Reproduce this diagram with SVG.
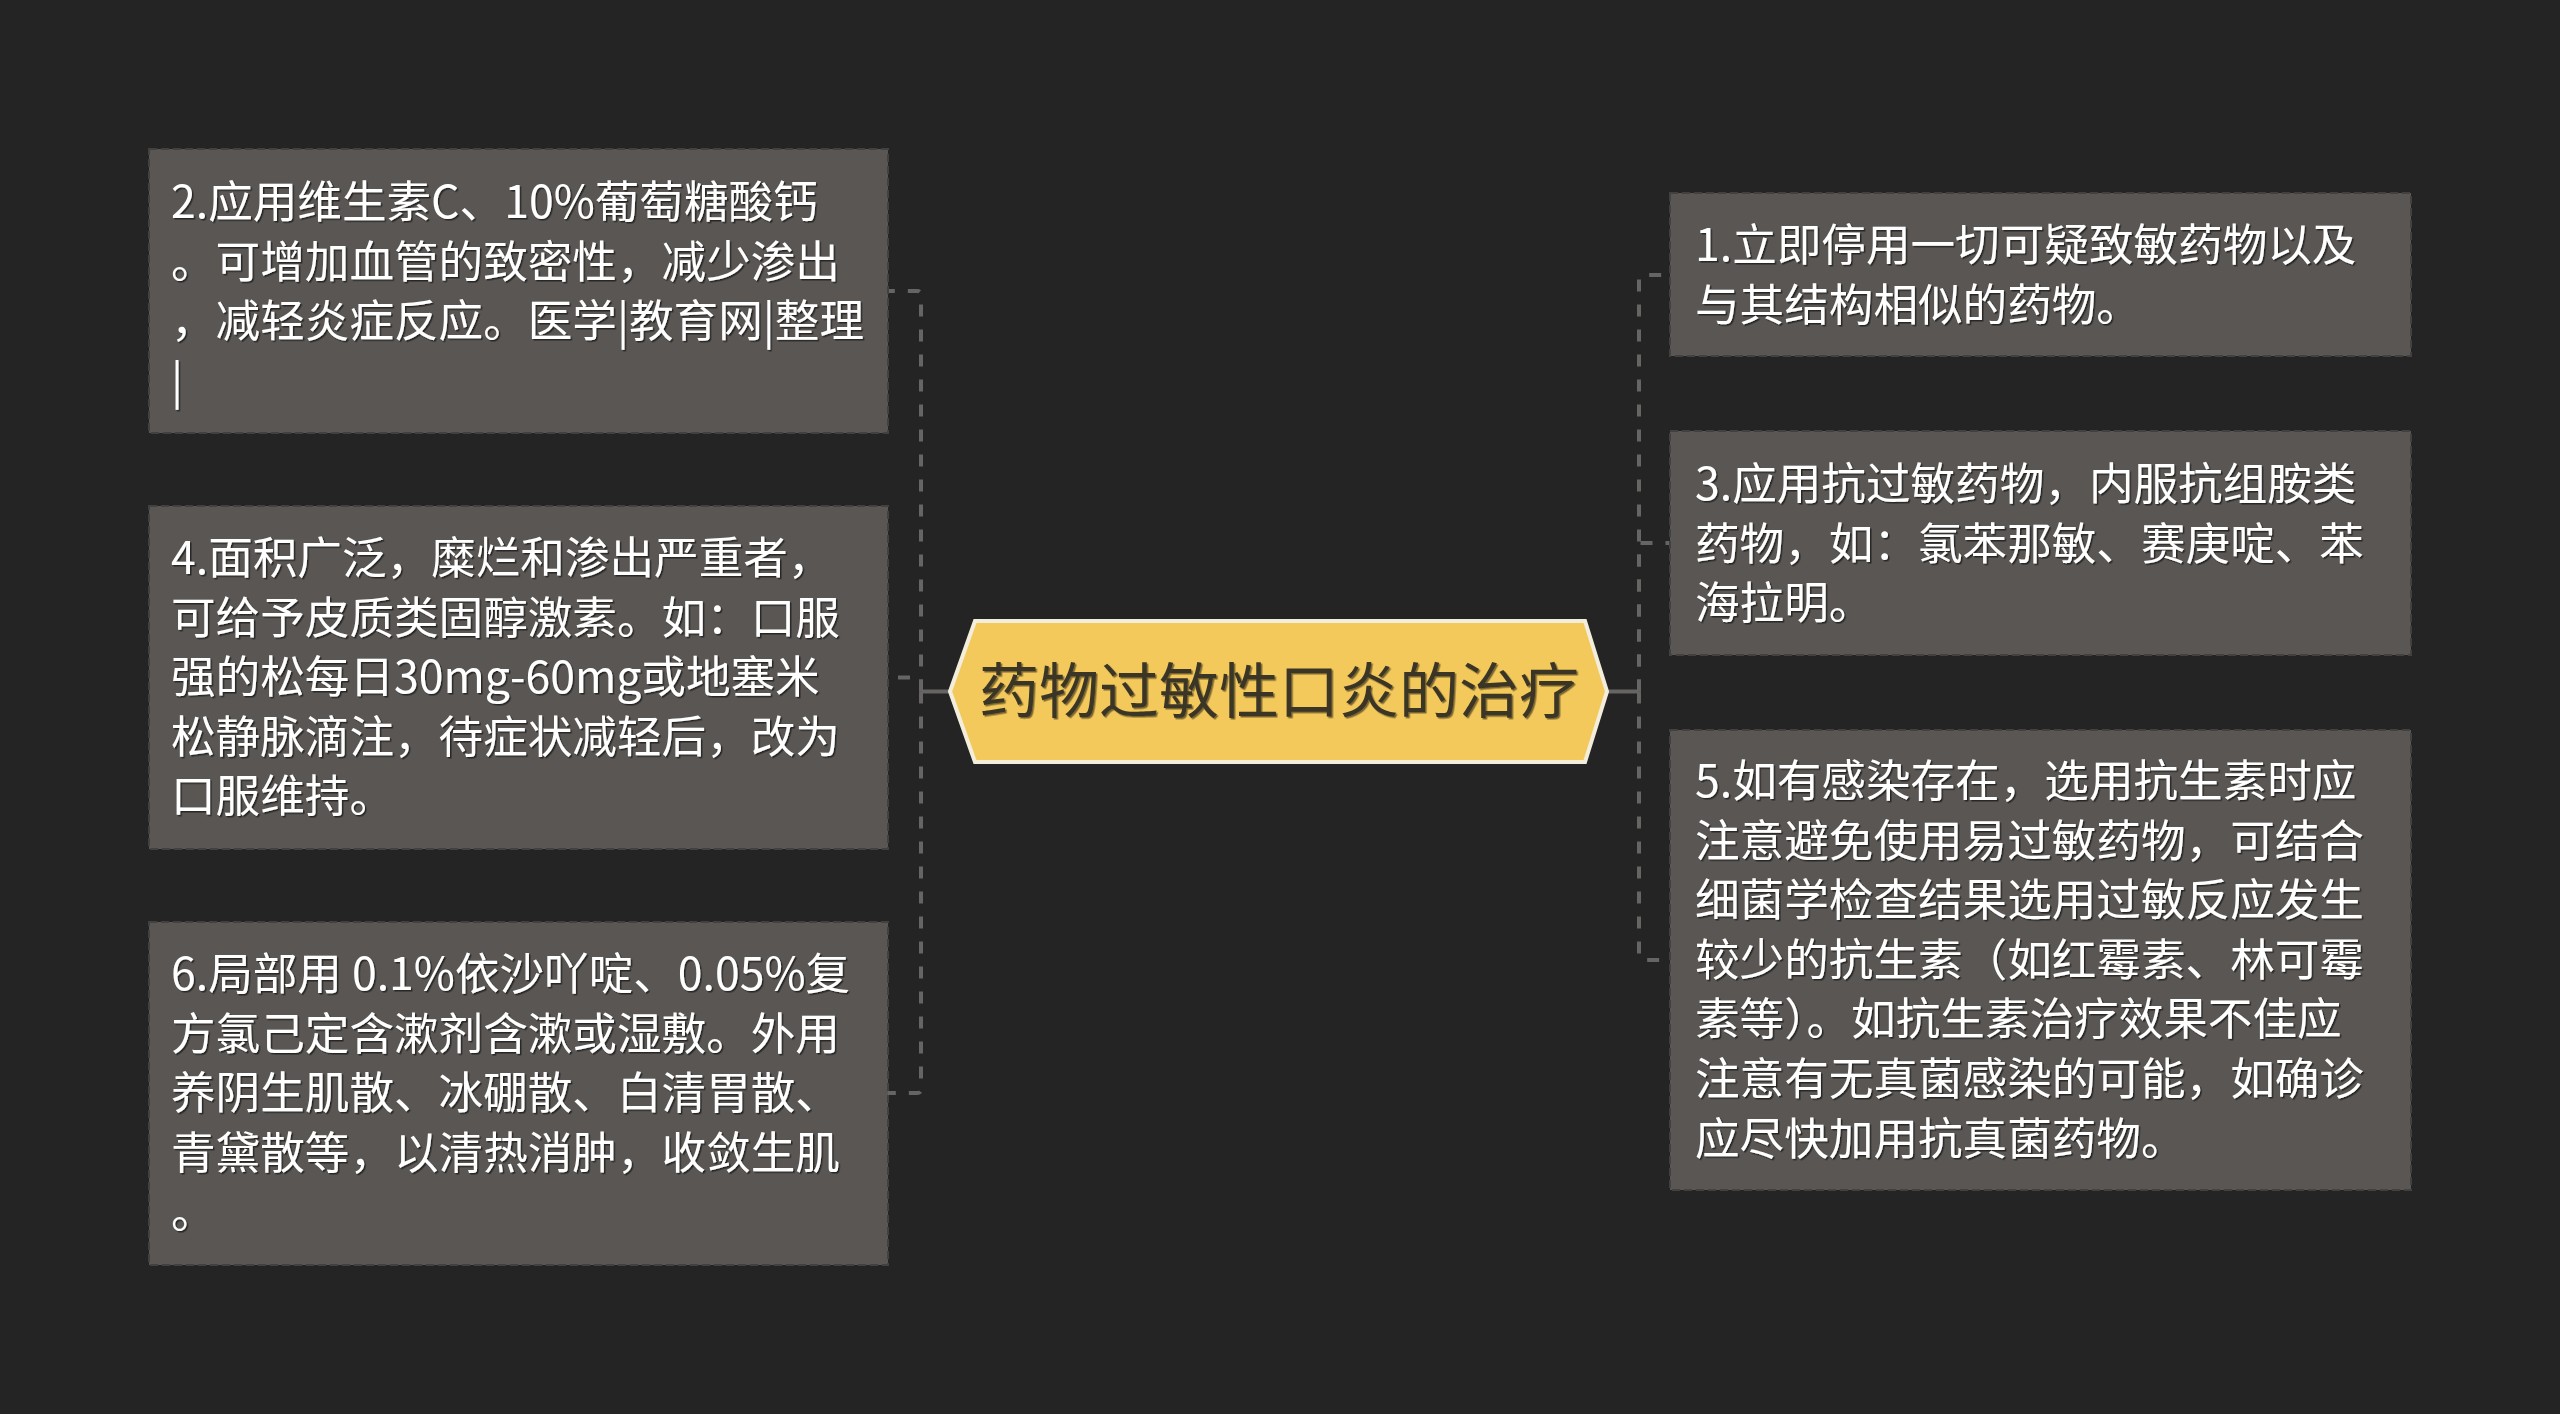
<svg xmlns="http://www.w3.org/2000/svg" width="2560" height="1414" viewBox="0 0 2560 1414">
<defs>
<filter id="sh" x="-5%" y="-5%" width="110%" height="110%">
<feDropShadow dx="1.5" dy="1.5" stdDeviation="0.6" flood-color="#000" flood-opacity="0.55"/>
</filter>
<filter id="shc" x="-5%" y="-5%" width="110%" height="110%">
<feDropShadow dx="1.5" dy="1.5" stdDeviation="0.4" flood-color="#000" flood-opacity="0.5"/>
</filter>
</defs>
<style>
.box{fill:#595653;stroke:#434140;stroke-width:2;stroke-dasharray:8 4;}
.t{font-family:"Noto Sans CJK SC","Noto Sans",sans-serif;font-size:44.6px;fill:#ffffff;filter:url(#sh);}
.c{fill:none;stroke:#676563;stroke-width:4;stroke-dasharray:12 13;}
.cs{fill:none;stroke:#676563;stroke-width:4;}
.title{font-family:"Noto Sans CJK SC","Noto Sans",sans-serif;font-size:60px;fill:#3a3627;filter:url(#shc);}
</style>
<rect x="0" y="0" width="2560" height="1414" fill="#242424"/>
<g id="connectors">
<path class="cs" d="M950 691.5 H921"/>
<path class="c" d="M921 691.5 V295 Q921 291 917 291 H888"/>
<path class="c" d="M921 691.5 V677.5 H888"/>
<path class="c" d="M921 691.5 V1089 Q921 1093 917 1093 H888"/>
<path class="cs" d="M1607 691.5 H1639"/>
<path class="c" d="M1639 691.5 V279 Q1639 275 1643 275 H1670"/>
<path class="c" d="M1639 691.5 V543 H1670"/>
<path class="c" d="M1639 691.5 V956 Q1639 960 1643 960 H1670"/>
</g>
<g id="center">
<polygon points="950,691.5 975,621 1585,621 1607,691.5 1585,762 975,762" fill="#f4c95c" stroke="#f2eedb" stroke-width="4"/>
<text class="title" x="1279" y="713" text-anchor="middle">药物过敏性口炎的治疗</text>
</g>
<g id="node2">
<rect class="box" x="149" y="149" width="739" height="284"/>
<text class="t" x="171" y="218">2.应用维生素C、10%葡萄糖酸钙</text>
<text class="t" x="171" y="277.6">。可增加血管的致密性，减少渗出</text>
<text class="t" x="171" y="337.2">，减轻炎症反应。医学|教育网|整理</text>
<text class="t" x="171" y="396.8">|</text>
</g>
<g id="node4">
<rect class="box" x="149" y="506" width="739" height="343"/>
<text class="t" x="171" y="574">4.面积广泛，糜烂和渗出严重者，</text>
<text class="t" x="171" y="633.6">可给予皮质类固醇激素。如：口服</text>
<text class="t" x="171" y="693.2">强的松每日30mg-60mg或地塞米</text>
<text class="t" x="171" y="752.8">松静脉滴注，待症状减轻后，改为</text>
<text class="t" x="171" y="812.4">口服维持。</text>
</g>
<g id="node6">
<rect class="box" x="149" y="922" width="739" height="343"/>
<text class="t" x="171" y="990">6.局部用 0.1%依沙吖啶、0.05%复</text>
<text class="t" x="171" y="1049.6">方氯己定含漱剂含漱或湿敷。外用</text>
<text class="t" x="171" y="1109.2">养阴生肌散、冰硼散、白清胃散、</text>
<text class="t" x="171" y="1168.8">青黛散等，以清热消肿，收敛生肌</text>
<text class="t" x="171" y="1228.4">。</text>
</g>
<g id="node1">
<rect class="box" x="1670" y="193" width="741" height="163"/>
<text class="t" x="1695" y="261">1.立即停用一切可疑致敏药物以及</text>
<text class="t" x="1695" y="320.6">与其结构相似的药物。</text>
</g>
<g id="node3">
<rect class="box" x="1670" y="431" width="741" height="224"/>
<text class="t" x="1695" y="500">3.应用抗过敏药物，内服抗组胺类</text>
<text class="t" x="1695" y="559.6">药物，如：氯苯那敏、赛庚啶、苯</text>
<text class="t" x="1695" y="619.2">海拉明。</text>
</g>
<g id="node5">
<rect class="box" x="1670" y="730" width="741" height="460"/>
<text class="t" x="1695" y="797">5.如有感染存在，选用抗生素时应</text>
<text class="t" x="1695" y="856.6">注意避免使用易过敏药物，可结合</text>
<text class="t" x="1695" y="916.2">细菌学检查结果选用过敏反应发生</text>
<text class="t" x="1695" y="975.8">较少的抗生素（如红霉素、林可霉</text>
<text class="t" x="1695" y="1035.4">素等）。如抗生素治疗效果不佳应</text>
<text class="t" x="1695" y="1095">注意有无真菌感染的可能，如确诊</text>
<text class="t" x="1695" y="1154.6">应尽快加用抗真菌药物。</text>
</g>
</svg>
